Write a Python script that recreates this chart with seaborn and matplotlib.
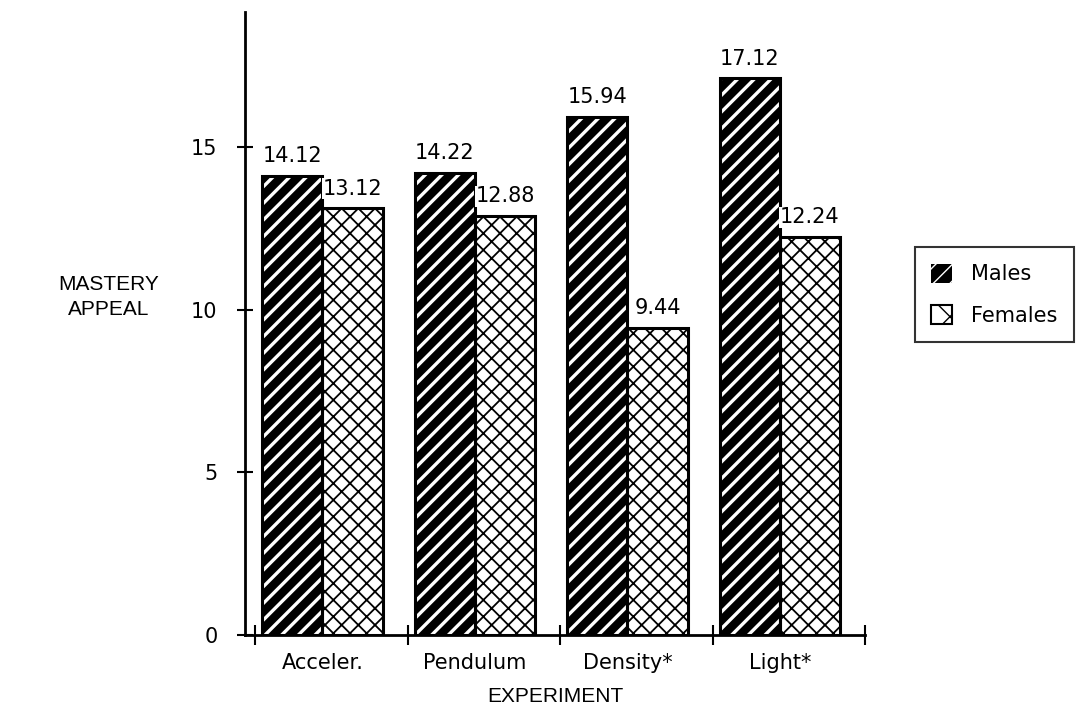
import matplotlib
matplotlib.use("Agg")
import matplotlib.pyplot as plt
import seaborn as sns
import pandas as pd
from matplotlib.patches import Patch, Rectangle

experiments = ["Acceler.", "Pendulum", "Density*", "Light*"]
males = [14.12, 14.22, 15.94, 17.12]
females = [13.12, 12.88, 9.44, 12.24]
groups = ["Males", "Females"]
yticks = [0, 5, 10, 15]

df = pd.DataFrame({
    "Experiment": experiments * 2,
    "Group": [groups[0]] * 4 + [groups[1]] * 4,
    "Value": males + females,
})

sns.set_style("white")
plt.rcParams["font.family"] = ["Liberation Sans", "DejaVu Sans"]
plt.rcParams.update({"text.color": "black", "axes.labelcolor": "black",
                     "xtick.color": "black", "ytick.color": "black"})
NUMFONT = ["DejaVu Sans"]

fig = plt.figure(figsize=(10.76, 7.25), dpi=100)
ax = fig.add_axes([0.228, 0.124, 0.576, 0.859])

sns.barplot(data=df, x="Experiment", y="Value", hue="Group", order=experiments,
            hue_order=groups, palette={"Males": "black", "Females": "white"},
            width=0.79, gap=0, ax=ax, legend=False, edgecolor="black", linewidth=1.5,
            errorbar=None)

bars = [p for p in ax.patches if isinstance(p, Rectangle)]
n = len(experiments)
male_bars = bars[:n]
female_bars = bars[n:]

def style_male(p):
    p.set_facecolor("black")
    p.set_edgecolor("white")
    p.set_hatch("//")
    p.set_linewidth(0)
    if hasattr(p, "set_hatch_linewidth"):
        p.set_hatch_linewidth(2.4)

def style_female(p):
    p.set_facecolor("white")
    p.set_edgecolor("black")
    p.set_hatch("xx")
    p.set_linewidth(0)
    if hasattr(p, "set_hatch_linewidth"):
        p.set_hatch_linewidth(1.3)

for p in male_bars:
    style_male(p)
for p in female_bars:
    style_female(p)

for p in male_bars + female_bars:
    ax.add_patch(Rectangle((p.get_x(), p.get_y()), p.get_width(), p.get_height(),
                           fill=False, edgecolor="black", linewidth=2.2, zorder=p.get_zorder() + 0.1))

for p, v in zip(male_bars + female_bars, males + females):
    ax.text(p.get_x() + p.get_width() / 2, v + 0.3, f"{v:.2f}", ha="center", va="bottom",
            fontsize=15, family=NUMFONT, color="black",
            bbox=dict(facecolor="white", edgecolor="none", pad=0.5), zorder=5)

ax.set_ylim(0, 19.15)
ax.set_xlim(-0.506, 3.56)
ax.set_yticks(yticks)
ax.set_yticklabels([str(t) for t in yticks], fontsize=15, family=NUMFONT)
ax.tick_params(axis="y", direction="inout", length=12, width=1.5, pad=14, left=True)

ax.set_xticks([i - 0.44 for i in range(n + 1)])
ax.set_xticklabels([""] * (n + 1))
ax.set_xticks(range(n), minor=True)
ax.set_xticklabels(experiments, minor=True, fontsize=15, family=NUMFONT)
ax.tick_params(axis="x", which="major", direction="inout", length=14, width=1.5, bottom=True)
ax.tick_params(axis="x", which="minor", length=0, pad=13)

for side in ["top", "right"]:
    ax.spines[side].set_visible(False)
for side in ["left", "bottom"]:
    ax.spines[side].set_linewidth(2)
    ax.spines[side].set_color("black")

ax.set_xlabel("EXPERIMENT", fontsize=15, labelpad=10)
ax.set_ylabel("MASTERY\nAPPEAL", fontsize=15, rotation=0, ha="center", va="center",
              linespacing=1.45)
ax.yaxis.set_label_coords(-0.221, 0.543)

h1 = Patch(facecolor="black", edgecolor="white", hatch="//", linewidth=0)
h2 = Patch(facecolor="white", edgecolor="black", hatch="x", linewidth=1.5)
leg = fig.legend([h1, h2], groups, loc="upper left", bbox_to_anchor=(0.850, 0.659),
                 borderaxespad=0, prop={"family": NUMFONT, "size": 15}, frameon=True,
                 fancybox=False, edgecolor="black", handlelength=1.0, handleheight=1.0,
                 borderpad=0.8, labelspacing=1.0, handletextpad=0.9)
leg.get_frame().set_linewidth(1.5)

fig.savefig("out.png", dpi=100)
